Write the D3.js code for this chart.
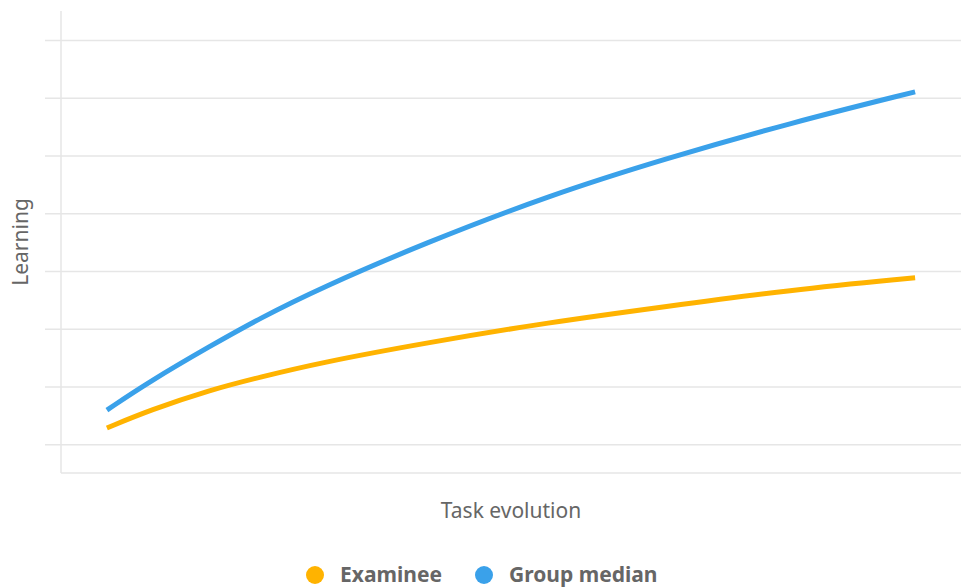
<!DOCTYPE html>
<html>
<head>
<meta charset="utf-8">
<script src="https://cdn.jsdelivr.net/npm/d3@7"></script>
<style>
  body { margin: 0; background: #fff; }
  text { font-family: "Noto Sans", "Open Sans", sans-serif; fill: #666; }
</style>
</head>
<body>
<div id="chart"></div>
<script>
// data (x = task progress, y = learning)
var taskSteps = [5.1, 9.9, 16.6, 22.1, 28.8, 40.4, 54.3, 67.1, 81.0, 94.9];
var examinee = [1.28, 1.59, 1.94, 2.16, 2.41, 2.75, 3.11, 3.38, 3.67, 3.88];
var groupMedian = [1.59, 2.09, 2.70, 3.18, 3.70, 4.48, 5.31, 5.94, 6.56, 7.10];
var gridValues = [1, 2, 3, 4, 5, 6, 7, 8];
var seriesNames = ["Examinee", "Group median"];
var seriesColors = ["#ffb300", "#3aa1ea"];

var margin = {top: 11, right: 7, bottom: 114, left: 61};
var width = 968 - margin.left - margin.right;
var height = 587 - margin.top - margin.bottom;

var svg = d3.select("#chart").append("svg")
    .attr("width", 968)
    .attr("height", 587)
    .append("g")
    .attr("transform", "translate(" + margin.left + "," + margin.top + ")");

var x = d3.scaleLinear().domain([0, 100]).range([0, width]);
var y = d3.scaleLinear().domain([0.5, 8.5]).range([height, 0]);

// gridlines + left ticks
var yAxis = d3.axisLeft(y)
    .tickValues(gridValues)
    .tickSize(-width)
    .tickSizeOuter(0)
    .tickFormat("")
    .tickPadding(0);

var gy = svg.append("g").call(yAxis);
gy.select(".domain").remove();
gy.selectAll(".tick line")
    .attr("x1", -16)
    .attr("stroke", "#e6e6e6")
    .attr("stroke-width", 1.5);

// axis lines
svg.append("line")
    .attr("x1", 0).attr("x2", 0)
    .attr("y1", 0).attr("y2", height)
    .attr("stroke", "#e6e6e6").attr("stroke-width", 1.5);
svg.append("line")
    .attr("x1", 0).attr("x2", width)
    .attr("y1", height).attr("y2", height)
    .attr("stroke", "#e6e6e6").attr("stroke-width", 1.5);

var line = d3.line()
    .x(function(d) { return x(d[0]); })
    .y(function(d) { return y(d[1]); })
    .curve(d3.curveBasis);

[examinee, groupMedian].forEach(function(vals, i) {
    svg.append("path")
        .datum(taskSteps.map(function(t, j) { return [t, vals[j]]; }))
        .attr("fill", "none")
        .attr("stroke", seriesColors[i])
        .attr("stroke-width", 5)
        .attr("stroke-linecap", "butt")
        .attr("d", line);
});

// axis titles
svg.append("text")
    .attr("x", width / 2)
    .attr("y", height + 45)
    .attr("text-anchor", "middle")
    .style("font-size", "21px")
    .text("Task evolution");

svg.append("text")
    .attr("transform", "translate(" + (-33) + "," + y(4.5) + ") rotate(-90)")
    .attr("text-anchor", "middle")
    .style("font-size", "21px")
    .text("Learning");

// legend
var legendX = [315, 484];
var legend = d3.select("svg").append("g");
seriesNames.forEach(function(name, i) {
    legend.append("circle")
        .attr("cx", legendX[i])
        .attr("cy", 575)
        .attr("r", 9)
        .attr("fill", seriesColors[i]);
    legend.append("text")
        .attr("x", legendX[i] + 25)
        .attr("y", 582)
        .style("font-size", "21px")
        .style("font-weight", "bold")
        .text(name);
});
</script>
</body>
</html>
